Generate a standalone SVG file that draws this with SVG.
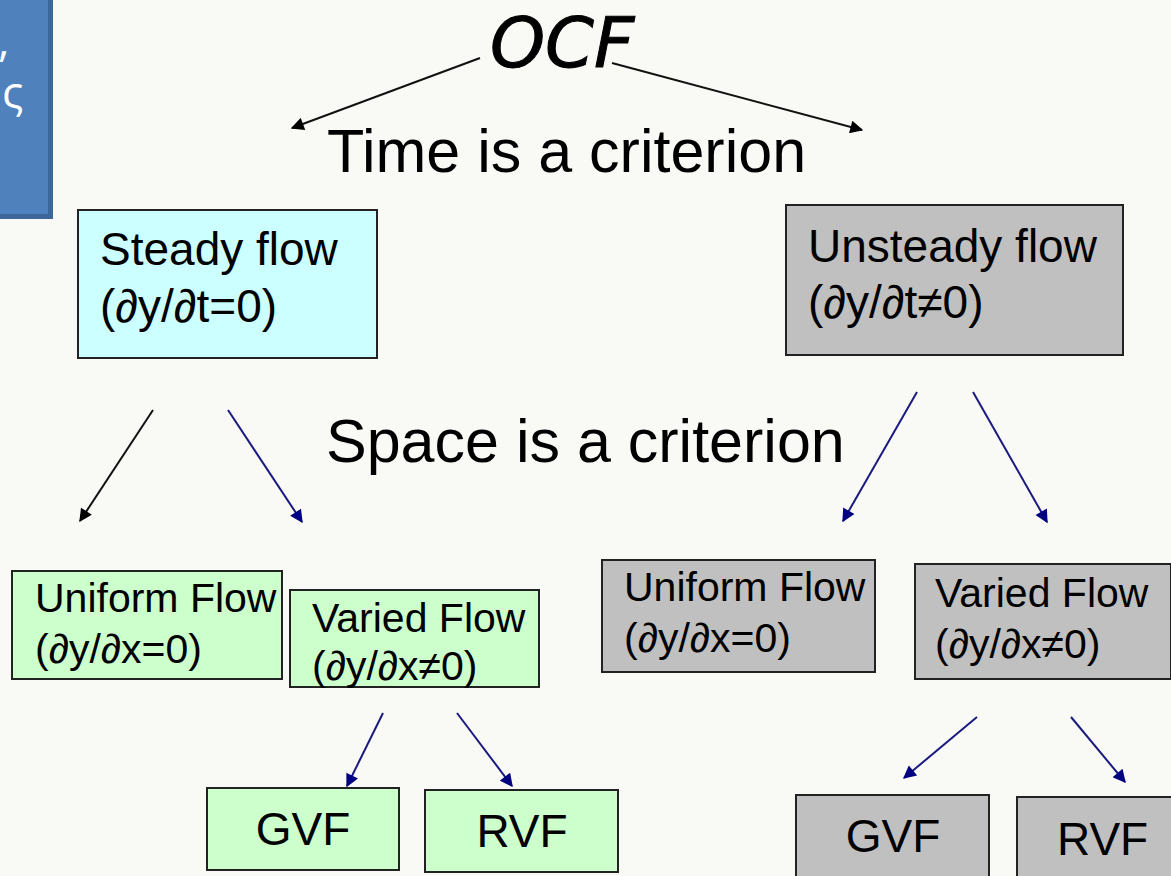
<svg xmlns="http://www.w3.org/2000/svg" width="1171" height="876" viewBox="0 0 1171 876">
<defs>
<marker id="ab" viewBox="0 0 10 10" refX="9" refY="5" markerWidth="15" markerHeight="13" markerUnits="userSpaceOnUse" orient="auto"><path d="M0,0 L10,5 L0,10 z" fill="#000"/></marker>
<marker id="an" viewBox="0 0 10 10" refX="9" refY="5" markerWidth="15" markerHeight="13" markerUnits="userSpaceOnUse" orient="auto"><path d="M0,0 L10,5 L0,10 z" fill="#000080"/></marker>
</defs>
<style>
text{font-family:"Liberation Sans",Arial,sans-serif;fill:#000}
.big{font-size:61px}
.t45{font-size:46px}
.t41{font-size:41px}
.t46{font-size:46px}
.box{stroke:#222;stroke-width:2}
.cyan{fill:#ccffff}
.green{fill:#ccffcc}
.gray{fill:#c0c0c0}
.cb{stroke:#111;stroke-width:2;fill:none}
.cn{stroke:#1a1a80;stroke-width:2;fill:none}
.side{font-family:"Open Sans","Noto Sans",sans-serif;font-size:44px;fill:#fff}
</style>
<rect width="1171" height="876" fill="#f9f9f6"/>

<g id="side-panel">
<rect x="-10" y="-10" width="63" height="229" fill="#3d6699"/>
<rect x="-10" y="-10" width="58" height="224" fill="#4f81bd"/>
<text class="side" x="-2" y="56">,</text>
<text class="side" x="2" y="108">ς</text>
</g>

<g id="title">
<text x="490" y="67" style="font-family:'DejaVu Sans',sans-serif;font-style:italic;font-size:70px;stroke:#000;stroke-width:1">OCF</text>
</g>
<g id="time-label"><text class="big" x="327" y="172">Time is a criterion</text></g>
<g id="space-label"><text class="big" x="326" y="462">Space is a criterion</text></g>

<g id="connectors">
<line class="cb" x1="480" y1="58" x2="292" y2="128" marker-end="url(#ab)"/>
<line class="cb" x1="612" y1="63" x2="862" y2="130" marker-end="url(#ab)"/>
<line class="cb" x1="153" y1="410" x2="80" y2="521" marker-end="url(#ab)"/>
<line class="cn" x1="228" y1="410" x2="302" y2="522" marker-end="url(#an)"/>
<line class="cn" x1="917" y1="392" x2="843" y2="521" marker-end="url(#an)"/>
<line class="cn" x1="973" y1="392" x2="1047" y2="522" marker-end="url(#an)"/>
<line class="cn" x1="383" y1="713" x2="347" y2="786" marker-end="url(#an)"/>
<line class="cn" x1="457" y1="713" x2="512" y2="786" marker-end="url(#an)"/>
<line class="cn" x1="977" y1="717" x2="904" y2="778" marker-end="url(#an)"/>
<line class="cn" x1="1071" y1="717" x2="1125" y2="782" marker-end="url(#an)"/>
</g>

<g id="steady">
<rect class="box cyan" x="78" y="210" width="299" height="148"/>
<text class="t45" x="100" y="265">Steady flow</text>
<text class="t45" x="100" y="322">(∂y/∂t=0)</text>
</g>
<g id="unsteady">
<rect class="box gray" x="786" y="205" width="337" height="150"/>
<text class="t45" x="808" y="262">Unsteady flow</text>
<text class="t45" x="808" y="318">(∂y/∂t≠0)</text>
</g>

<g id="uniform-steady">
<rect class="box green" x="12" y="571" width="270" height="108"/>
<text class="t41" x="35" y="612">Uniform Flow</text>
<text class="t41" x="35" y="663">(∂y/∂x=0)</text>
</g>
<g id="varied-steady">
<rect class="box green" x="290" y="590" width="249" height="97"/>
<text class="t41" x="312" y="632">Varied Flow</text>
<text class="t41" x="312" y="680">(∂y/∂x≠0)</text>
</g>
<g id="uniform-unsteady">
<rect class="box gray" x="602" y="560" width="273" height="112"/>
<text class="t41" x="624" y="601">Uniform Flow</text>
<text class="t41" x="624" y="652">(∂y/∂x=0)</text>
</g>
<g id="varied-unsteady">
<rect class="box gray" x="915" y="564" width="256" height="115"/>
<text class="t41" x="935" y="607">Varied Flow</text>
<text class="t41" x="935" y="658">(∂y/∂x≠0)</text>
</g>

<g id="gvf-steady">
<rect class="box green" x="207" y="788" width="192" height="82"/>
<text class="t46" x="303" y="845" text-anchor="middle">GVF</text>
</g>
<g id="rvf-steady">
<rect class="box green" x="425" y="790" width="193" height="82"/>
<text class="t46" x="522" y="847" text-anchor="middle">RVF</text>
</g>
<g id="gvf-unsteady">
<rect class="box gray" x="796" y="795" width="193" height="90"/>
<text class="t46" x="893" y="852" text-anchor="middle">GVF</text>
</g>
<g id="rvf-unsteady">
<rect class="box gray" x="1017" y="797" width="170" height="90"/>
<text class="t46" x="1057" y="855">RVF</text>
</g>
</svg>
